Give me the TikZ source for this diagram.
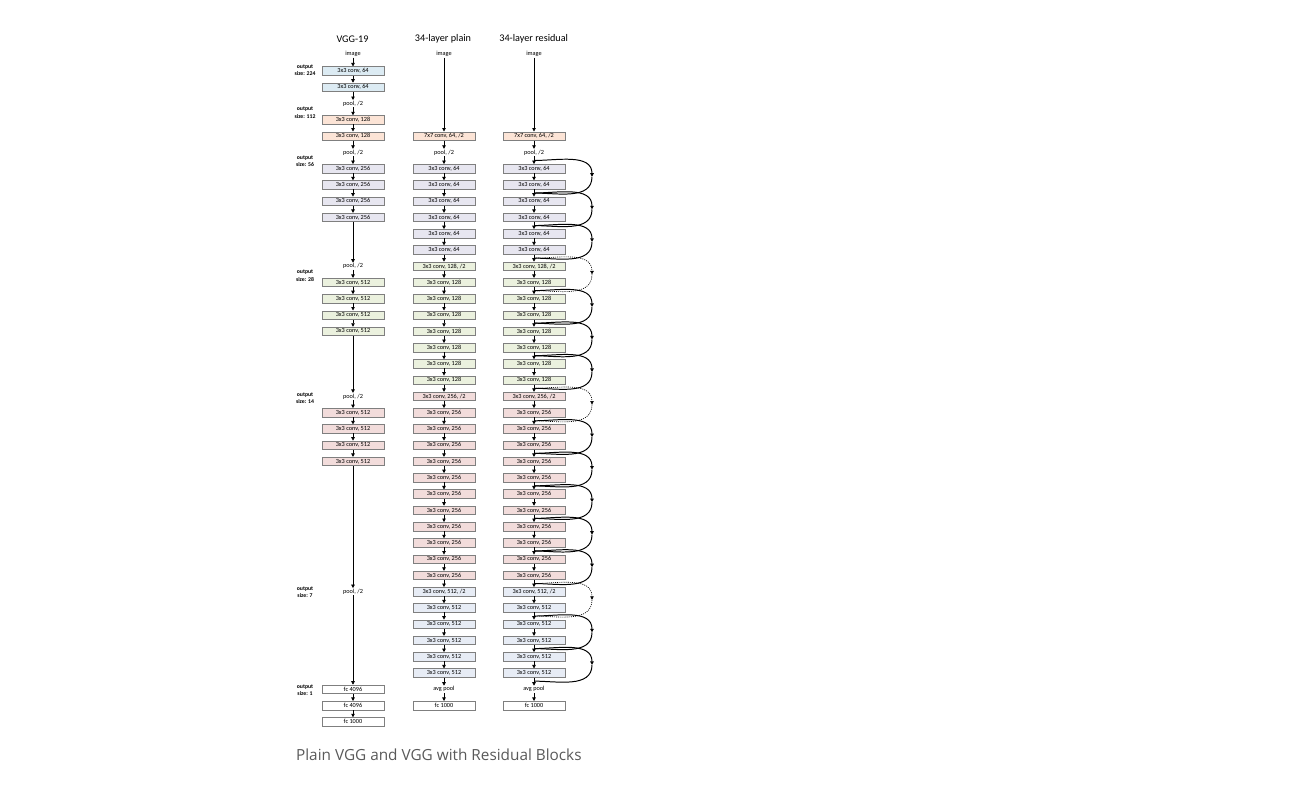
\documentclass[tikz,border=0pt]{standalone}
\usepackage{fontspec}
\setmainfont{Carlito}
\newfontfamily\captionfont{Open Sans}
\usetikzlibrary{calc,arrows.meta}
\definecolor{rblue}{HTML}{DCEBF3}
\definecolor{rpeach}{HTML}{FCE4D6}
\definecolor{rlav}{HTML}{E7E6F0}
\definecolor{rgreen}{HTML}{EBF1DE}
\definecolor{rpink}{HTML}{F2DCDB}
\definecolor{rsteel}{HTML}{E7ECF5}
\definecolor{rborder}{HTML}{7F7F7F}
\definecolor{rcaption}{HTML}{595959}

% centre of layer row #1 (pixels from the top, negated)
\newcommand{\ry}[1]{-71-16.27*(#1)}

\tikzset{
  layer/.style={draw=rborder, line width=0.8pt, minimum width=31mm, minimum height=4.25mm,
    inner sep=0pt, font=\fontsize{8.9}{10}\selectfont},
  fblue/.style={layer, fill=rblue},
  fpeach/.style={layer, fill=rpeach},
  flav/.style={layer, fill=rlav},
  fgreen/.style={layer, fill=rgreen},
  fpink/.style={layer, fill=rpink},
  fsteel/.style={layer, fill=rsteel},
  fwhite/.style={layer, fill=white},
  tag/.style={inner sep=1pt, font=\fontsize{8.9}{10}\selectfont},
  sizetag/.style={align=center, inner sep=0pt, font=\bfseries\fontsize{8.2}{10.7}\selectfont},
  title/.style={font=\fontsize{14.5}{16}\selectfont},
  flow/.style={->, line width=1.1pt},
  skip/.style={->, line width=1.4pt},
  skipdim/.style={->, line width=0.9pt, dash pattern=on 1.5pt off 1.5pt}
}

\begin{document}
\begin{tikzpicture}[x=0.5mm, y=0.5mm, >={Triangle[length=5pt, width=5pt]}]
  \useasboundingbox (0,0) rectangle (1310,-790);

  % column titles
  \node[title] (tvgg) at (352.5,-39) {VGG-19};
  \node[title] (tpln) at (443,-39) {34-layer plain};
  \node[title] (tres) at (533.7,-39) {34-layer residual};

  % output sizes on the left
  \foreach \y/\sz [count=\i] in {70/224, 112.5/112, 161/56, 275.5/28, 398/14, 592/7, 690/1}
    \node[sizetag] (size\i) at (305,-\y) {output\\size: \sz};

  % VGG-19
  \node[tag] (vggimg) at (353,-54) {image};
  \foreach \r/\txt/\s in {0/{3x3 conv, 64}/fblue, 1/{3x3 conv, 64}/fblue, 2/{pool, /2}/tag,
      3/{3x3 conv, 128}/fpeach, 4/{3x3 conv, 128}/fpeach, 5/{pool, /2}/tag,
      6/{3x3 conv, 256}/flav, 7/{3x3 conv, 256}/flav, 8/{3x3 conv, 256}/flav, 9/{3x3 conv, 256}/flav,
      12/{pool, /2}/tag,
      13/{3x3 conv, 512}/fgreen, 14/{3x3 conv, 512}/fgreen, 15/{3x3 conv, 512}/fgreen, 16/{3x3 conv, 512}/fgreen,
      20/{pool, /2}/tag,
      21/{3x3 conv, 512}/fpink, 22/{3x3 conv, 512}/fpink, 23/{3x3 conv, 512}/fpink, 24/{3x3 conv, 512}/fpink,
      32/{pool, /2}/tag, 38/{fc 4096}/fwhite, 39/{fc 4096}/fwhite, 40/{fc 1000}/fwhite}
    \node[\s] (vgg\r) at (353,{\ry{\r}}) {\txt};
  \foreach \r [remember=\r as \rprev (initially img)] in
      {0,1,2,3,4,5,6,7,8,9,12,13,14,15,16,20,21,22,23,24,32,38,39,40}
    \draw[flow] (vgg\rprev) -- (vgg\r);

  % 34-layer plain and 34-layer residual share the same stack
  \foreach \col/\x in {pln/444, res/534}{
    \node[tag] (\col-img) at (\x,-54) {image};
    \node[fpeach] (\col4) at (\x,{\ry{4}}) {7x7 conv, 64, /2};
    \node[tag] (\col5) at (\x,{\ry{5}}) {pool, /2};
    \foreach \r in {6,...,11}
      \node[flav] (\col\r) at (\x,{\ry{\r}}) {3x3 conv, 64};
    \node[fgreen] (\col12) at (\x,{\ry{12}}) {3x3 conv, 128, /2};
    \foreach \r in {13,...,19}
      \node[fgreen] (\col\r) at (\x,{\ry{\r}}) {3x3 conv, 128};
    \node[fpink] (\col20) at (\x,{\ry{20}}) {3x3 conv, 256, /2};
    \foreach \r in {21,...,31}
      \node[fpink] (\col\r) at (\x,{\ry{\r}}) {3x3 conv, 256};
    \node[fsteel] (\col32) at (\x,{\ry{32}}) {3x3 conv, 512, /2};
    \foreach \r in {33,...,37}
      \node[fsteel] (\col\r) at (\x,{\ry{\r}}) {3x3 conv, 512};
    \node[tag] (\col38) at (\x,{\ry{38}}) {avg pool};
    \node[fwhite] (\col39) at (\x,{\ry{39}}) {fc 1000};

    \draw[flow] (\col-img) -- (\col4);
    \foreach \r [evaluate=\r as \rprev using int(\r-1)] in {5,...,39}
      \draw[flow] (\col\rprev) -- (\col\r);
  }

  % shortcuts round every pair of layers: solid = identity, dotted = /2 projection
  \foreach \a/\s in {6/skip, 8/skip, 10/skip, 12/skipdim, 14/skip, 16/skip, 18/skip,
      20/skipdim, 22/skip, 24/skip, 26/skip, 28/skip, 30/skip, 32/skipdim, 34/skip, 36/skip}{
    \pgfmathtruncatemacro{\rprev}{\a-1}
    \pgfmathtruncatemacro{\rlast}{\a+1}
    \pgfmathtruncatemacro{\rafter}{\a+2}
    \coordinate (in\a) at ($ (res\rprev)!0.5!(res\a) $);
    \coordinate (out\a) at ($ (res\rlast)!0.5!(res\rafter) $);
    \coordinate (bend\a) at (592,{\ry{\a+0.5}});
    \draw[\s] (in\a) to[out=0, in=90] (bend\a);
    \draw[\s, -] (bend\a) to[out=-90, in=0] (out\a);
  }

  \node[anchor=base west, inner sep=0pt, text=rcaption, font=\captionfont\fontsize{21.8}{26}\selectfont]
    (caption) at (296,-760) {Plain VGG and VGG with Residual Blocks};
\end{tikzpicture}
\end{document}
